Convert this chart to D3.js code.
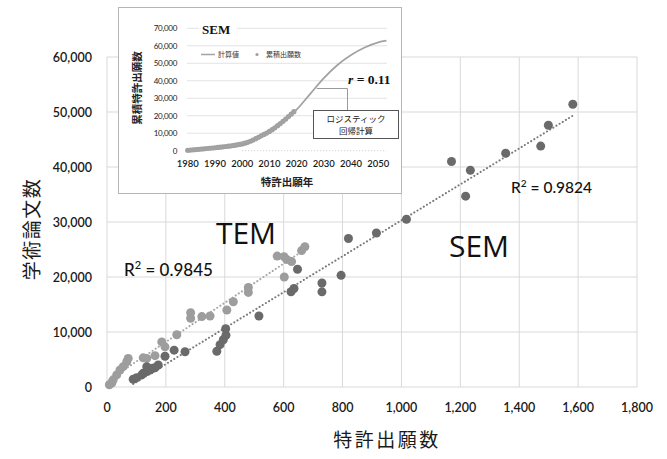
<!DOCTYPE html>
<html>
<head>
<meta charset="utf-8">
<script src="https://cdn.jsdelivr.net/npm/d3@7"></script>
<style>
  body { margin: 0; background: #fff; }
  svg { display: block; }
</style>
</head>
<body>
<svg id="chart"></svg>
<script>
const width = 667;
const height = 459;

// main scatter: [patent applications, papers]
const semPoints = [
  [89, 1400], [101, 1700], [118, 2200], [123, 2500], [135, 2800], [135, 3700], [146, 3100],
  [155, 3400], [163, 3500], [174, 4000], [197, 5600], [228, 6700], [265, 6400],
  [373, 6500], [384, 7700], [395, 8600], [404, 9400], [403, 10600], [516, 12900],
  [625, 17300], [635, 17900], [647, 21400], [730, 17300], [730, 18900], [795, 20300],
  [820, 27000], [915, 28000], [1017, 30500], [1170, 41000], [1218, 34700], [1234, 39400],
  [1354, 42500], [1473, 43800], [1499, 47600], [1582, 51400]
];
const temPoints = [
  [8, 400], [16, 700], [21, 1300], [33, 2200], [44, 3100], [55, 3700], [67, 4600], [72, 5200],
  [123, 5300], [135, 5200], [163, 5700], [186, 8200], [197, 7300], [237, 9500],
  [284, 12500], [284, 13500], [322, 12800], [350, 12900], [407, 14000], [429, 15500],
  [480, 17200], [480, 18100], [578, 23800], [601, 23700], [610, 23200], [627, 22800],
  [602, 20000], [661, 24800], [672, 25500]
];
const xTicks = [0, 200, 400, 600, 800, 1000, 1200, 1400, 1600, 1800];
const yTicks = [0, 10000, 20000, 30000, 40000, 50000, 60000];

// inset: logistic curve and cumulative applications
const curveYears = [1980, 1985, 1990, 1995, 2000, 2005, 2010, 2015, 2020, 2025, 2030, 2035, 2040, 2045, 2050, 2053];
const curveValues = [300, 700, 1400, 2500, 4200, 6800, 10900, 16500, 23500, 32500, 41500, 49000, 54700, 59000, 62000, 62900];
const cumYears = d3.range(1980, 2020);
const cumValues = [200, 350, 500, 650, 800, 950, 1100, 1250, 1400, 1550, 1700, 1850, 2000, 2200, 2400,
  2600, 2800, 3000, 3300, 3600, 3900, 4300, 4800, 5400, 6100, 6900, 7700, 8500, 9300, 10100,
  11000, 12000, 13100, 14300, 15500, 16800, 18100, 19500, 20900, 22300];
const insetXTicks = [1980, 1990, 2000, 2010, 2020, 2030, 2040, 2050];
const insetYTicks = [0, 10000, 20000, 30000, 40000, 50000, 60000, 70000];

const font = "Lato, 'Open Sans', sans-serif";
const labelFont = "'Open Sans', sans-serif";
const jpFont = "'Noto Sans CJK JP', sans-serif";

const svg = d3.select("#chart")
  .attr("width", width)
  .attr("height", height)
  .attr("viewBox", [0, 0, width, height]);

const x = d3.scaleLinear([0, 1800], [107, 637]);
const y = d3.scaleLinear([0, 60000], [387, 57]);
const fmt = d3.format(",");

// grid
svg.append("g")
  .selectAll("line")
  .data(xTicks)
  .join("line")
  .attr("x1", d => x(d)).attr("x2", d => x(d))
  .attr("y1", y(60000)).attr("y2", y(0))
  .attr("stroke", "#d9d9d9");
svg.append("g")
  .selectAll("line")
  .data(yTicks)
  .join("line")
  .attr("x1", x(0)).attr("x2", x(1800))
  .attr("y1", d => y(d)).attr("y2", d => y(d))
  .attr("stroke", "#d9d9d9");

// tick labels
svg.append("g")
  .selectAll("text")
  .data(xTicks)
  .join("text")
  .attr("x", d => x(d)).attr("y", 412)
  .attr("text-anchor", "middle")
  .attr("font-family", font).attr("font-size", 12.5).attr("font-weight", 600)
  .attr("fill", "#1a1a1a")
  .text(d => fmt(d));
svg.append("g")
  .selectAll("text")
  .data(yTicks)
  .join("text")
  .attr("x", 92).attr("y", d => y(d) + 4.5)
  .attr("text-anchor", "end")
  .attr("font-family", font).attr("font-size", 12.5).attr("font-weight", 600)
  .attr("fill", "#1a1a1a")
  .text(d => fmt(d));

// axis titles
svg.append("text")
  .attr("x", 387).attr("y", 447)
  .attr("text-anchor", "middle")
  .attr("font-family", jpFont).attr("font-size", 19)
  .attr("letter-spacing", 2.5)
  .attr("fill", "#1a1a1a")
  .text("特許出願数");
svg.append("text")
  .attr("transform", "translate(39,229) rotate(-90)")
  .attr("text-anchor", "middle")
  .attr("font-family", jpFont).attr("font-size", 19)
  .attr("letter-spacing", 1.5)
  .attr("fill", "#1a1a1a")
  .text("学術論文数");

// linear trend lines (least squares)
function fit(pts) {
  const mx = d3.mean(pts, d => d[0]), my = d3.mean(pts, d => d[1]);
  const b = d3.sum(pts, d => (d[0] - mx) * (d[1] - my)) / d3.sum(pts, d => (d[0] - mx) ** 2);
  const a = my - b * mx;
  const [x0, x1] = d3.extent(pts, d => d[0]);
  return [[x0, a + b * x0], [x1, a + b * x1]];
}
const trend = d3.line().x(d => x(d[0])).y(d => y(d[1]));

svg.append("path")
  .attr("d", trend(fit(temPoints)))
  .attr("stroke", "#a6a6a6").attr("stroke-width", 2)
  .attr("stroke-dasharray", "0.1,3.6").attr("stroke-linecap", "round")
  .attr("fill", "none");
svg.append("path")
  .attr("d", trend(fit(semPoints)))
  .attr("stroke", "#7a7a7a").attr("stroke-width", 2)
  .attr("stroke-dasharray", "0.1,3.6").attr("stroke-linecap", "round")
  .attr("fill", "none");

// points
svg.append("g")
  .selectAll("circle")
  .data(temPoints)
  .join("circle")
  .attr("cx", d => x(d[0])).attr("cy", d => y(d[1]))
  .attr("r", 4.5)
  .attr("fill", "#9d9d9d");
svg.append("g")
  .selectAll("circle")
  .data(semPoints)
  .join("circle")
  .attr("cx", d => x(d[0])).attr("cy", d => y(d[1]))
  .attr("r", 4.5)
  .attr("fill", "#6a6a6a");

// labels
svg.append("text")
  .attr("x", 246).attr("y", 244)
  .attr("text-anchor", "middle")
  .attr("font-family", labelFont).attr("font-size", 30)
  .attr("fill", "#111")
  .text("TEM");
svg.append("text")
  .attr("x", 479).attr("y", 257)
  .attr("text-anchor", "middle")
  .attr("font-family", labelFont).attr("font-size", 30)
  .attr("fill", "#111")
  .text("SEM");

function r2Label(px, py, size, value) {
  const t = svg.append("text")
    .attr("x", px).attr("y", py)
    .attr("font-family", font).attr("font-size", size).attr("font-weight", 500)
    .attr("fill", "#111");
  t.append("tspan").text("R");
  t.append("tspan").attr("font-size", size * 0.65).attr("dy", -size * 0.4).text("2");
  t.append("tspan").attr("dy", size * 0.4).text(" = " + value);
}
r2Label(124, 276, 17, "0.9845");
r2Label(511, 193, 15.5, "0.9824");

// ---------------- inset ----------------
const inset = svg.append("g");
inset.append("rect")
  .attr("x", 118.5).attr("y", 7.5)
  .attr("width", 283).attr("height", 186)
  .attr("fill", "#fff").attr("stroke", "#b5b5b5");

const ix = d3.scaleLinear([1980, 2050], [187.7, 378.3]);
const iy = d3.scaleLinear([0, 70000], [150.7, 28.3]);

inset.append("g")
  .selectAll("line")
  .data(insetYTicks.filter(d => d > 0))
  .join("line")
  .attr("x1", 187).attr("x2", 387)
  .attr("y1", d => iy(d)).attr("y2", d => iy(d))
  .attr("stroke", "#e3e3e3");

inset.append("g")
  .selectAll("text")
  .data(insetYTicks)
  .join("text")
  .attr("x", 177).attr("y", d => iy(d) + 3)
  .attr("text-anchor", "end")
  .attr("font-family", font).attr("font-size", 8)
  .attr("letter-spacing", -0.3)
  .attr("fill", "#222")
  .text(d => fmt(d));
inset.append("g")
  .selectAll("text")
  .data(insetXTicks)
  .join("text")
  .attr("x", d => ix(d)).attr("y", 167)
  .attr("text-anchor", "middle")
  .attr("font-family", font).attr("font-size", 9.5).attr("font-weight", 600)
  .attr("fill", "#1a1a1a")
  .text(d => d);

inset.append("text")
  .attr("x", 287).attr("y", 186)
  .attr("text-anchor", "middle")
  .attr("font-family", jpFont).attr("font-size", 10.5).attr("font-weight", "bold")
  .attr("fill", "#222")
  .text("特許出願年");
inset.append("text")
  .attr("transform", "translate(141,88) rotate(-90)")
  .attr("text-anchor", "middle")
  .attr("font-family", jpFont).attr("font-size", 10.5).attr("font-weight", "bold")
  .attr("fill", "#222")
  .text("累積特許出願数");

// zero reference (dotted)
inset.append("line")
  .attr("x1", ix(2000)).attr("x2", ix(2053))
  .attr("y1", iy(0)).attr("y2", iy(0))
  .attr("stroke", "#c8c8c8").attr("stroke-dasharray", "1,2");

// cumulative applications
inset.append("g")
  .selectAll("circle")
  .data(cumYears.map((yr, i) => [yr, cumValues[i]]))
  .join("circle")
  .attr("cx", d => ix(d[0])).attr("cy", d => iy(d[1]))
  .attr("r", 2.6)
  .attr("fill", "#a0a0a0");

// logistic curve
inset.append("path")
  .attr("d", d3.line().curve(d3.curveMonotoneX)
    .x(d => ix(d[0])).y(d => iy(d[1]))(curveYears.map((yr, i) => [yr, curveValues[i]])))
  .attr("fill", "none").attr("stroke", "#a3a3a3").attr("stroke-width", 1.8);

// legend
inset.append("line")
  .attr("x1", 201).attr("x2", 215).attr("y1", 54.5).attr("y2", 54.5)
  .attr("stroke", "#a3a3a3").attr("stroke-width", 1.5);
inset.append("text")
  .attr("x", 218).attr("y", 57)
  .attr("font-family", jpFont).attr("font-size", 7)
  .attr("fill", "#333").text("計算値");
inset.append("circle")
  .attr("cx", 257).attr("cy", 54.5).attr("r", 1.6).attr("fill", "#a0a0a0");
inset.append("text")
  .attr("x", 266).attr("y", 57)
  .attr("font-family", jpFont).attr("font-size", 7)
  .attr("fill", "#333").text("累積出願数");

// SEM title with white background over gridline
inset.append("rect")
  .attr("x", 199).attr("y", 22).attr("width", 38).attr("height", 14)
  .attr("fill", "#fff");
inset.append("text")
  .attr("x", 202).attr("y", 34)
  .attr("font-family", "'Liberation Serif', serif").attr("font-size", 13).attr("font-weight", "bold")
  .attr("fill", "#111").text("SEM");

// r value
const rText = inset.append("text")
  .attr("x", 348).attr("y", 84)
  .attr("font-family", "'Liberation Serif', serif").attr("font-size", 13.5).attr("font-weight", "bold")
  .attr("fill", "#111");
rText.append("tspan").attr("font-style", "italic").text("r");
rText.append("tspan").text(" = 0.11");

// callout
inset.append("path")
  .attr("d", "M316.7,88.5H347.5V110")
  .attr("fill", "none").attr("stroke", "#9a9a9a");
inset.append("rect")
  .attr("x", 313.5).attr("y", 110.5).attr("width", 85).attr("height", 28)
  .attr("fill", "#fff").attr("stroke", "#555");
inset.append("text")
  .attr("x", 356).attr("y", 122)
  .attr("text-anchor", "middle")
  .attr("font-family", jpFont).attr("font-size", 8.5)
  .attr("fill", "#222").text("ロジスティック");
inset.append("text")
  .attr("x", 356).attr("y", 134)
  .attr("text-anchor", "middle")
  .attr("font-family", jpFont).attr("font-size", 8.5)
  .attr("fill", "#222").text("回帰計算");
</script>
</body>
</html>
